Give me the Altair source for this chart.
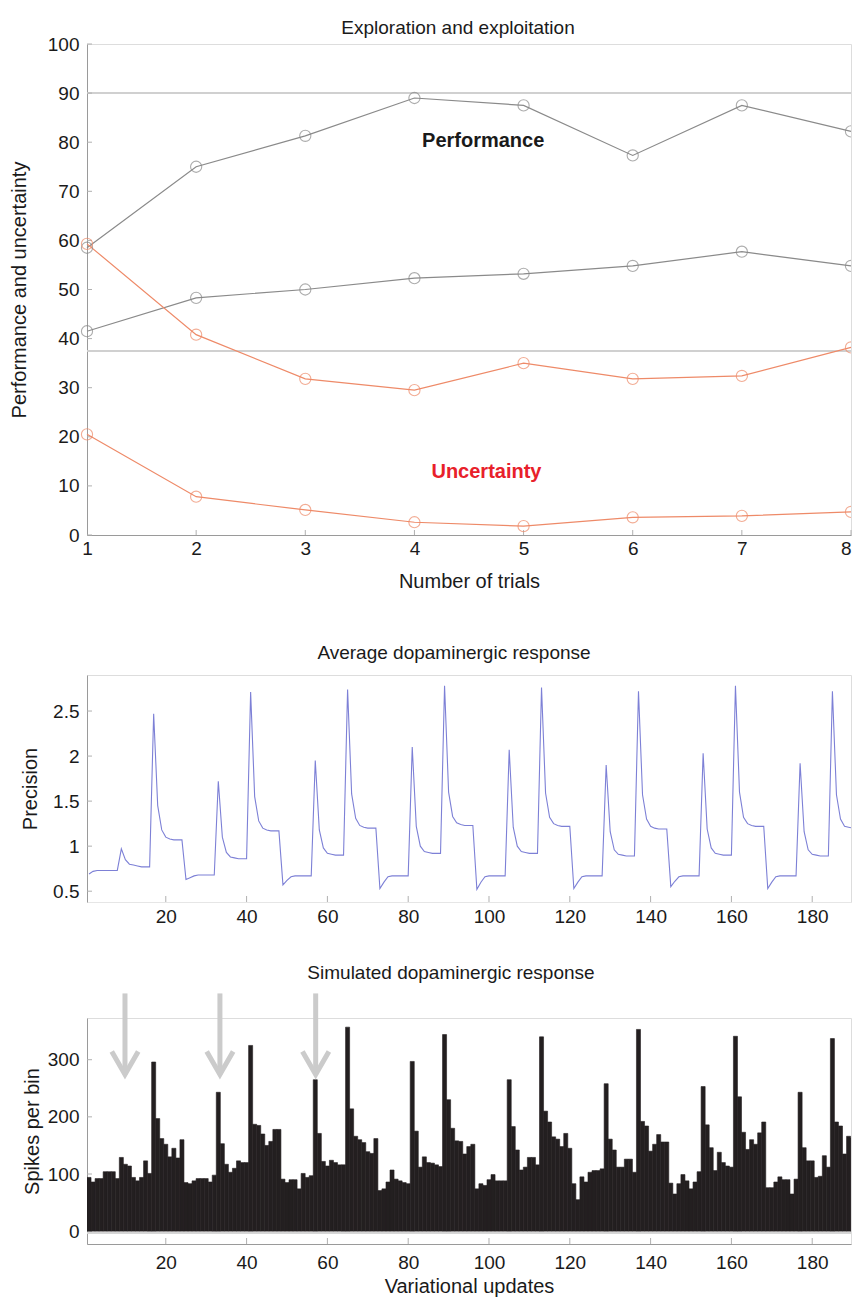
import altair as alt
import pandas as pd

FONT = "Liberation Sans"

# ---------------- top panel: exploration and exploitation ----------------
trials = [1, 2, 3, 4, 5, 6, 7, 8]
perf_high = [58.5, 75.0, 81.3, 89.0, 87.5, 77.3, 87.5, 82.2]
perf_low = [41.5, 48.3, 50.0, 52.3, 53.2, 54.8, 57.7, 54.8]
unc_high = [59.3, 40.8, 31.8, 29.5, 35.0, 31.8, 32.4, 38.2]
unc_low = [20.5, 7.8, 5.1, 2.6, 1.8, 3.6, 3.9, 4.7]
ref_levels = [90, 37.5]
top_yticks = [0, 10, 20, 30, 40, 50, 60, 70, 80, 90, 100]
label_text = ["Performance", "Uncertainty"]
label_x = [4.63, 4.66]
label_y = [80.2, 12.8]
label_color = ["#1a1a1a", "#e8202a"]

# ---------------- middle panel: average dopaminergic response ----------------
precision = (
    [0.69, 0.72, 0.73, 0.73, 0.73, 0.73, 0.73, 0.73, 0.97, 0.85, 0.80, 0.79,
     0.78, 0.77, 0.77, 0.77, 2.47, 1.45, 1.18, 1.10, 1.08, 1.07, 1.07, 1.07]
    + [0.63, 0.65, 0.67, 0.68, 0.68, 0.68, 0.68, 0.68, 1.72, 1.10, 0.93, 0.88,
       0.87, 0.86, 0.86, 0.86, 2.71, 1.55, 1.28, 1.20, 1.18, 1.17, 1.17, 1.17]
    + [0.57, 0.62, 0.66, 0.67, 0.67, 0.67, 0.67, 0.67, 1.95, 1.18, 0.98, 0.92,
       0.91, 0.90, 0.90, 0.90, 2.74, 1.58, 1.31, 1.23, 1.21, 1.20, 1.20, 1.20]
    + [0.53, 0.60, 0.66, 0.67, 0.67, 0.67, 0.67, 0.67, 2.10, 1.22, 1.00, 0.94,
       0.93, 0.92, 0.92, 0.92, 2.78, 1.60, 1.33, 1.26, 1.24, 1.23, 1.23, 1.23]
    + [0.52, 0.60, 0.66, 0.67, 0.67, 0.67, 0.67, 0.67, 2.07, 1.21, 1.00, 0.94,
       0.93, 0.92, 0.92, 0.92, 2.76, 1.59, 1.32, 1.25, 1.23, 1.22, 1.22, 1.22]
    + [0.53, 0.60, 0.66, 0.67, 0.67, 0.67, 0.67, 0.67, 1.90, 1.16, 0.96, 0.91,
       0.90, 0.89, 0.89, 0.89, 2.72, 1.57, 1.30, 1.22, 1.20, 1.19, 1.19, 1.19]
    + [0.55, 0.61, 0.66, 0.67, 0.67, 0.67, 0.67, 0.67, 2.03, 1.19, 0.98, 0.92,
       0.91, 0.90, 0.90, 0.90, 2.78, 1.60, 1.32, 1.25, 1.23, 1.22, 1.22, 1.22]
    + [0.53, 0.60, 0.66, 0.67, 0.67, 0.67, 0.67, 0.67, 1.92, 1.16, 0.96, 0.91,
       0.90, 0.89, 0.89, 0.89, 2.72, 1.57, 1.30, 1.22, 1.21, 1.20, 1.20, 1.20]
)
updates = list(range(1, 193))
update_ticks = [20, 40, 60, 80, 100, 120, 140, 160, 180]
mid_yticks = [0.5, 1, 1.5, 2, 2.5]

# ---------------- bottom panel: simulated dopaminergic response ----------------
spikes = [
    94, 86, 92, 92, 104, 104, 104, 92, 129, 117, 114, 94, 88, 94, 123, 101,
    296, 197, 162, 152, 130, 145, 128, 160, 85, 83, 88, 92, 92, 92, 86, 98,
    243, 153, 117, 103, 110, 123, 120, 120, 325, 187, 185, 170, 150, 157, 178, 178,
    91, 85, 90, 90, 74, 101, 94, 97, 265, 171, 122, 114, 124, 120, 116, 116,
    357, 214, 166, 160, 155, 139, 136, 162, 71, 74, 86, 107, 91, 88, 85, 83,
    297, 175, 112, 130, 120, 119, 116, 113, 344, 230, 180, 158, 157, 135, 148, 152,
    74, 83, 80, 90, 99, 88, 88, 88, 265, 183, 142, 107, 112, 129, 129, 116,
    340, 210, 191, 165, 161, 148, 171, 145, 83, 55, 95, 86, 103, 106, 106, 109,
    258, 161, 142, 112, 112, 126, 126, 103, 353, 192, 184, 140, 152, 169, 156, 156,
    84, 65, 83, 99, 88, 74, 86, 104, 253, 186, 146, 106, 138, 120, 114, 112,
    341, 235, 173, 143, 160, 152, 172, 191, 76, 76, 86, 95, 90, 90, 65, 91,
    243, 146, 123, 123, 94, 96, 132, 112, 337, 191, 184, 135, 166, 163, 143, 143,
]
bot_yticks = [0, 100, 200, 300]
arrow_updates = [9.9, 33.4, 57.1]
arrow_tip = [274, 274, 274]
arrow_top = [416, 416, 416]

# ---------------- build tables ----------------
top_df = pd.concat([
    pd.DataFrame({"trial": trials, "value": perf_high, "series": "p1", "group": "Performance"}),
    pd.DataFrame({"trial": trials, "value": perf_low, "series": "p2", "group": "Performance"}),
    pd.DataFrame({"trial": trials, "value": unc_high, "series": "u1", "group": "Uncertainty"}),
    pd.DataFrame({"trial": trials, "value": unc_low, "series": "u2", "group": "Uncertainty"}),
])
ref_df = pd.DataFrame({"level": ref_levels})
lab_df = pd.DataFrame({"text": label_text, "x": label_x, "y": label_y, "c": label_color})
mid_df = pd.DataFrame({"u": updates, "p": precision})
bot_df = pd.DataFrame({"u": updates, "s": spikes})
arrow_df = pd.DataFrame({"u": arrow_updates, "tip": arrow_tip, "top": arrow_top})
xt_top = pd.DataFrame({"v": trials[1:]})
xt_upd = pd.DataFrame({"v": update_ticks})
yt_top = pd.DataFrame({"v": top_yticks})
yt_mid = pd.DataFrame({"v": mid_yticks})
yt_bot = pd.DataFrame({"v": bot_yticks})

W = 764
H_TOP, H_MID, H_BOT = 491, 227, 226
AX = dict(grid=False, ticks=False, domainColor="#9a9a9a", domainWidth=1,
          labelFont=FONT, labelFontSize=19, labelColor="#1a1a1a",
          titleFont=FONT, titleFontSize=20, titleFontWeight="normal", titleColor="#1a1a1a",
          labelFlush=False)
TICK = "#b0b0b0"
last_trial = trials[-1]


def ttl(text, offset, dx):
    return alt.TitleParams(text, font=FONT, fontSize=19, fontWeight="normal", color="#1a1a1a",
                           anchor="middle", dx=dx, offset=offset)


# ---- top chart
xs_top = alt.Scale(domain=[1, 8], nice=False, zero=False)
ys_top = alt.Scale(domain=[0, 100], nice=False)
x_top = alt.X("trial:Q", scale=xs_top,
              axis=alt.Axis(values=trials, format="d", title=["Number of trials", " "],
                            titleLineHeight=15, labelPadding=4, titlePadding=13,
                            labelAlign=alt.condition(f"datum.value == {last_trial}",
                                                     alt.value("right"), alt.value("center")),
                            **AX))
y_top = alt.Y("value:Q", scale=ys_top,
              axis=alt.Axis(values=top_yticks, format="d", title="Performance and uncertainty",
                            labelPadding=8, titlePadding=18, **AX))
col = alt.Color("group:N", scale=alt.Scale(domain=["Performance", "Uncertainty"],
                                           range=["#8a8a8a", "#ee8a68"]), legend=None)

ref_rules = alt.Chart(ref_df).mark_rule(color="#d0d0d0", strokeWidth=2).encode(
    y=alt.Y("level:Q", scale=ys_top))
lines = alt.Chart(top_df).mark_line(strokeWidth=1.2).encode(
    x=x_top, y=y_top, detail="series:N", color=col)
pts = alt.Chart(top_df).transform_filter(f"datum.trial < {last_trial}").mark_point(
    shape="circle", filled=False, size=125, strokeWidth=1.1).encode(
    x=x_top, y=y_top, detail="series:N", color=col)
pts_edge = alt.Chart(top_df).transform_filter(f"datum.trial >= {last_trial}").mark_point(
    shape="circle", filled=False, size=125, strokeWidth=1.1, clip=True).encode(
    x=x_top, y=y_top, detail="series:N", color=col)
labels = alt.Chart(lab_df).mark_text(font=FONT, fontSize=20, fontWeight="bold", baseline="middle").encode(
    x=alt.X("x:Q", scale=xs_top), y=alt.Y("y:Q", scale=ys_top),
    text="text:N", color=alt.Color("c:N", scale=None))
xt1 = alt.Chart(xt_top).mark_rule(color=TICK).encode(
    x=alt.X("v:Q", scale=xs_top), y=alt.value(H_TOP), y2=alt.value(H_TOP - 5))
yt1 = alt.Chart(yt_top).mark_rule(color=TICK).encode(
    y=alt.Y("v:Q", scale=ys_top), x=alt.value(0), x2=alt.value(5))

top = alt.layer(ref_rules, xt1, yt1, lines, pts, pts_edge, labels).properties(
    width=W, height=H_TOP, title=ttl("Exploration and exploitation", -3, -11))

# ---- middle chart
xs_upd = alt.Scale(domain=[0.5, 189.6], nice=False, zero=False)
ys_mid = alt.Scale(domain=[0.38, 2.9], nice=False, zero=False)
mid_line = alt.Chart(mid_df).mark_line(color="#7d80d6", strokeWidth=1.1, clip=True).encode(
    x=alt.X("u:Q", scale=xs_upd,
            axis=alt.Axis(values=update_ticks, title=None, labelPadding=5,
                          **{**AX, "domainColor": "#e6e6e6"})),
    y=alt.Y("p:Q", scale=ys_mid,
            axis=alt.Axis(values=mid_yticks, format="~g", title="Precision",
                          labelPadding=8, titlePadding=12, **AX)))
xt2 = alt.Chart(xt_upd).mark_rule(color=TICK).encode(
    x=alt.X("v:Q", scale=xs_upd), y=alt.value(H_MID), y2=alt.value(H_MID - 6))
yt2 = alt.Chart(yt_mid).mark_rule(color=TICK).encode(
    y=alt.Y("v:Q", scale=ys_mid), x=alt.value(0), x2=alt.value(5))
mid = alt.layer(xt2, yt2, mid_line).properties(
    width=W, height=H_MID, title=ttl("Average dopaminergic response", 12, -15))

# ---- bottom chart
ys_bot = alt.Scale(domain=[-22.5, 373], nice=False, zero=False)
bars = alt.Chart(bot_df).transform_calculate(
    u0="datum.u - 0.5", u1="datum.u + 0.5"
).mark_rect(color="#231f20", stroke="#231f20", strokeWidth=0.6, clip=True).encode(
    x=alt.X("u0:Q", scale=xs_upd,
            axis=alt.Axis(values=update_ticks, title="Variational updates",
                          labelPadding=9, titlePadding=4, **AX)),
    x2="u1:Q",
    y=alt.Y("s:Q", scale=ys_bot,
            axis=alt.Axis(values=bot_yticks, format="d", title="Spikes per bin",
                          labelPadding=8, titlePadding=5, **AX)),
    y2=alt.datum(0))
base_line = alt.Chart(bot_df).mark_rule(color="#d5d5d5", strokeWidth=1.2).encode(
    y=alt.datum(-3, scale=ys_bot))
xt3 = alt.Chart(xt_upd).mark_rule(color=TICK).encode(
    x=alt.X("v:Q", scale=xs_upd), y=alt.value(H_BOT), y2=alt.value(H_BOT - 6))
yt3 = alt.Chart(yt_bot).mark_rule(color=TICK).encode(
    y=alt.Y("v:Q", scale=ys_bot), x=alt.value(0), x2=alt.value(5))
shafts = alt.Chart(arrow_df).mark_rule(color="#cbcbcb", strokeWidth=5).encode(
    x=alt.X("u:Q", scale=xs_upd), y=alt.Y("top:Q", scale=ys_bot), y2="tip:Q")
heads = alt.Chart(arrow_df).mark_point(
    shape="M -1 -1.75 L 0 0 L 1 -1.75", filled=False, size=700, strokeWidth=5,
    color="#cbcbcb", opacity=1).encode(
    x=alt.X("u:Q", scale=xs_upd), y=alt.Y("tip:Q", scale=ys_bot))
bot = alt.layer(base_line, xt3, yt3, bars, shafts, heads).properties(
    width=W, height=H_BOT, title=ttl("Simulated dopaminergic response", 8, -18))

chart = alt.vconcat(top, mid, bot, spacing=36).properties(
    padding={"left": 0, "top": 10, "right": 0, "bottom": 0}
).configure_view(stroke=None).configure(font=FONT)

chart.save("out.html", embed_options={"renderer": "svg", "actions": False})
